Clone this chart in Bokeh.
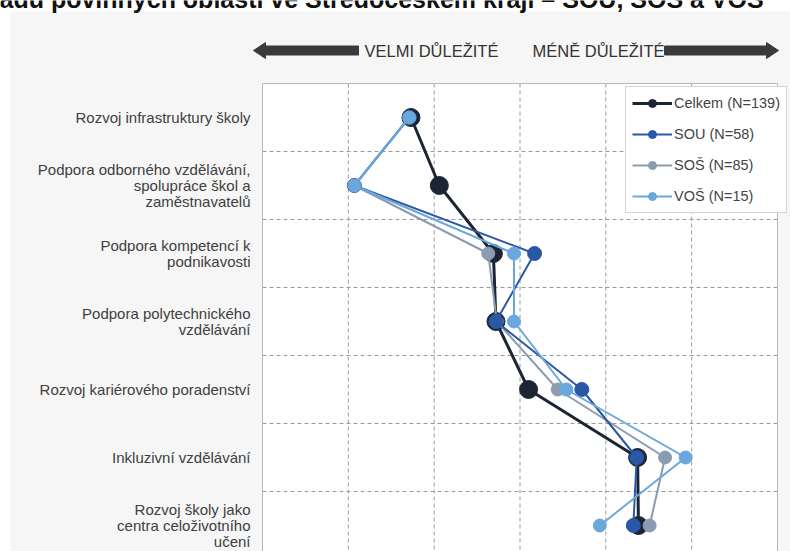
from bokeh.plotting import figure
from bokeh.models import Range1d, Legend, LegendItem, ColumnDataSource
from bokeh.core.properties import value
from bokeh.embed import file_html
from bokeh.resources import INLINE

# ---------------- data ----------------
categories = [
    "Rozvoj infrastruktury školy",
    "Podpora odborného vzdělávání,\nspolupráce škol a\nzaměstnavatelů",
    "Podpora kompetencí k\npodnikavosti",
    "Podpora polytechnického\nvzdělávání",
    "Rozvoj kariérového poradenství",
    "Inkluzivní vzdělávání",
    "Rozvoj školy jako\ncentra celoživotního\nučení",
]
series_names = ["Celkem (N=139)", "SOU (N=58)", "SOŠ (N=85)", "VOŠ (N=15)"]
celkem = [2.73, 3.06, 3.69, 3.72, 4.10, 5.37, 5.38]
sou    = [2.71, 2.07, 4.17, 3.72, 4.72, 5.36, 5.32]
sos    = [2.71, 2.07, 3.63, 3.73, 4.44, 5.69, 5.51]
vos    = [2.71, 2.07, 3.93, 3.93, 4.54, 5.93, 4.93]
x_ticks = [1, 2, 3, 4, 5, 6, 7]          # rank scale (1 = most important)
header_texts = ["VELMI DŮLEŽITÉ", "MÉNĚ DŮLEŽITÉ"]
title_text = "adu povinných oblastí ve Středočeském kraji – SOU, SOŠ a VOŠ"

# ---------------- style / layout (canvas pixels) ----------------
FONT = "Liberation Sans"
PANEL = "#f6f6f6"
GRID = "#9a9a9a"
colors = {"Celkem (N=139)": "#1c2533", "SOU (N=58)": "#2b57a7",
          "SOŠ (N=85)": "#8b9bb0", "VOŠ (N=15)": "#6aa7dc"}
widths = {"Celkem (N=139)": 3, "SOU (N=58)": 2, "SOŠ (N=85)": 2, "VOŠ (N=15)": 2}
sizes = {"Celkem (N=139)": 18, "SOU (N=58)": 14, "SOŠ (N=85)": 13, "VOŠ (N=15)": 13}
draw_order = ["Celkem (N=139)", "SOŠ (N=85)", "SOU (N=58)", "VOŠ (N=15)"]

W, H = 790, 551
FL, FR, FT = 262, 777, 83     # plot area left / right / top in canvas px
ROW_PX = 68
n = len(categories)

xmin, xmax = x_ticks[0], x_ticks[-1]
kx = (FR - FL) / (xmax - xmin)
x_range = Range1d(xmin - FL / kx, xmax + (W - FR) / kx)
y_range = Range1d((H - FT) / ROW_PX, -FT / ROW_PX)   # rows counted downward from the plot top

p = figure(width=W, height=H, x_range=x_range, y_range=y_range,
           x_axis_location=None, y_axis_location=None,
           toolbar_location=None, output_backend="svg", min_border=0)
p.extra_x_ranges = {"px": Range1d(0, W)}
p.extra_y_ranges = {"px": Range1d(H, 0)}
p.grid.visible = False
p.outline_line_color = None
p.background_fill_color = "white"
p.border_fill_color = "white"

# grey panel around the plot area
p.quad(left=[10, 10, FR], right=[W, FL, W], top=[11, FT, FT], bottom=[FT, H, H],
       fill_color=PANEL, line_color=None, x_range_name="px", y_range_name="px")

# dashed grid
ys = [i + 0.5 for i in range(n)]
vx = x_ticks[1:-1]
p.segment(x0=vx, x1=vx, y0=[0] * len(vx), y1=[n] * len(vx),
          line_color=GRID, line_dash="4 3", line_width=1)
hy = list(range(1, n))
p.segment(x0=[xmin] * len(hy), x1=[xmax] * len(hy), y0=hy, y1=hy,
          line_color=GRID, line_dash="4 3", line_width=1)
# plot area border
p.quad(left=[xmin], right=[xmax], top=[0], bottom=[n], fill_color=None,
       line_color="#b8b8b8", line_width=1)

# category labels
p.text(x=[FL - 12] * n, y=ys, text=categories, x_range_name="px",
       text_align="right", text_baseline="middle", text_font=value(FONT),
       text_font_size="15px", text_color="#404040", text_line_height=0.95)

# series
data = {"Celkem (N=139)": celkem, "SOU (N=58)": sou, "SOŠ (N=85)": sos, "VOŠ (N=15)": vos}
rends = {}
for name in draw_order:
    src = ColumnDataSource(dict(x=data[name], y=ys))
    c = colors[name]
    r1 = p.line("x", "y", source=src, line_color=c, line_width=widths[name])
    r2 = p.scatter("x", "y", source=src, size=sizes[name], fill_color=c, line_color=c)
    rends[name] = [r1, r2]
items = [LegendItem(label=name, renderers=rends[name]) for name in series_names]

legend = Legend(items=items, location=(625, H - 213), orientation="vertical",
                label_text_font=FONT, label_text_font_size="14.5px", label_text_color="#444444",
                glyph_width=40, glyph_height=20, label_height=20, label_standoff=2,
                spacing=11, padding=6, margin=0,
                border_line_color="#aaaaaa", border_line_width=1,
                background_fill_color="white", background_fill_alpha=1.0)
p.add_layout(legend, "center")

# header arrows and texts
AY = 50
ARROW = "#3a3a3a"
def arrow(tip, tail):
    d = 1 if tail > tip else -1
    base = tip + d * 12
    return ([tip, base, base, tail, tail, base, base],
            [AY, AY - 8, AY - 4.5, AY - 4.5, AY + 4.5, AY + 4.5, AY + 8])
ax1, ay1 = arrow(253, 358)
ax2, ay2 = arrow(778, 664)
p.patches(xs=[ax1, ax2], ys=[ay1, ay2], fill_color=ARROW, line_color=ARROW,
          x_range_name="px", y_range_name="px")
p.text(x=[431, 598], y=[AY, AY], text=header_texts, x_range_name="px", y_range_name="px",
       text_align="center", text_baseline="middle", text_font=value(FONT),
       text_font_size="16.5px", text_color="#333333")

# title (only its lower part is visible in the reference)
p.text(x=[-1], y=[-2], text=[title_text], x_range_name="px", y_range_name="px",
       text_align="left", text_baseline="alphabetic", text_font=value(FONT),
       text_font_style="bold", text_font_size="25px", text_color="#111111")

open("out.html", "w").write(file_html(p, INLINE))
